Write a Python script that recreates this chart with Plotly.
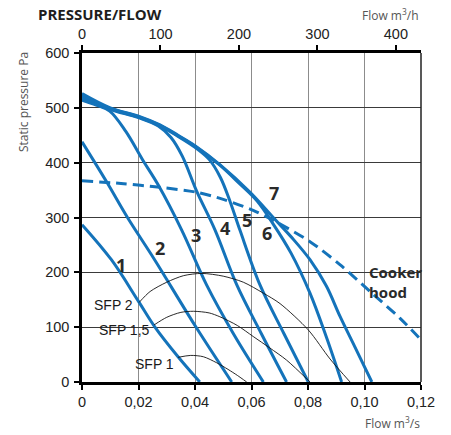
import plotly.graph_objects as go

# ---- data (flow in m3/s, static pressure in Pa) ----
c1_flow = [0, 0.0104, 0.02, 0.0257, 0.034, 0.0417]
c1_pa = [287, 223, 147, 101, 46, 0]

c2_flow = [0, 0.0086, 0.0161, 0.0257, 0.04, 0.053]
c2_pa = [438, 366, 300, 223, 103, 0]

c3_flow = [0, 0.005, 0.0098, 0.0155, 0.0216, 0.0269, 0.0353, 0.0441, 0.0536, 0.0642]
c3_pa = [514, 505, 494, 457, 404, 360, 277, 177, 88, 0]

c4_flow = [0, 0.01, 0.02, 0.027, 0.0315, 0.0355, 0.0405, 0.0471, 0.0548, 0.0635, 0.0724]
c4_pa = [517, 497, 482, 467, 446, 412, 349, 277, 177, 88, 0]

c5_flow = [0, 0.01, 0.02, 0.0276, 0.034, 0.04, 0.045, 0.049, 0.0525, 0.0559, 0.063, 0.0715, 0.0801]
c5_pa = [520, 498, 483, 467, 448, 428, 406, 373, 328, 277, 177, 88, 0]

c6_flow = [0, 0.01, 0.02, 0.0276, 0.034, 0.04, 0.0489, 0.0555, 0.062, 0.0677, 0.074, 0.0807, 0.0865, 0.0919]
c6_pa = [523, 499, 484, 468, 449, 430, 395, 363, 330, 288, 235, 162, 82, 0]

c7_flow = [0, 0.01, 0.02, 0.0276, 0.034, 0.04, 0.0489, 0.0595, 0.0677, 0.0745, 0.0807, 0.0865, 0.0913, 0.0965, 0.1026]
c7_pa = [526, 500, 485, 469, 450, 431, 396, 346, 300, 262, 223, 175, 120, 65, 0]

hood_flow = [0, 0.0138, 0.0276, 0.0406, 0.05, 0.0606, 0.0677, 0.0807, 0.0913, 0.102, 0.1126, 0.12]
hood_pa = [367, 362, 355, 346, 333, 313, 295, 256, 214, 165, 116, 77]

sfp2_flow = [0.0202, 0.0241, 0.03, 0.036, 0.0425, 0.05, 0.0571, 0.0642, 0.0701, 0.0801, 0.0878, 0.0949]
sfp2_pa = [145, 165, 182, 194, 198, 193, 182, 162, 143, 95, 42, 0]

sfp15_flow = [0.0255, 0.03, 0.035, 0.0395, 0.045, 0.0488, 0.055, 0.0606, 0.0665, 0.0724, 0.0807]
sfp15_pa = [104, 118, 127, 129, 126, 119, 103, 83, 62, 40, 0]

sfp1_flow = [0.034, 0.0385, 0.043, 0.0477, 0.0517, 0.055, 0.0583]
sfp1_pa = [45, 48.5, 46, 35, 23, 12, 0]

curve_names = ["1", "2", "3", "4", "5", "6", "7"]
x_ticks = [0, 0.02, 0.04, 0.06, 0.08, 0.10, 0.12]
x_ticklabels = ["0", "0,02", "0,04", "0,06", "0,08", "0,10", "0,12"]
top_ticks = [0, 100, 200, 300, 400]
y_ticks = [0, 100, 200, 300, 400, 500, 600]
M3S_TO_M3H = 3600

fan_curves = [(c1_flow, c1_pa), (c2_flow, c2_pa), (c3_flow, c3_pa), (c4_flow, c4_pa),
              (c5_flow, c5_pa), (c6_flow, c6_pa), (c7_flow, c7_pa)]
sfp_curves = [(sfp2_flow, sfp2_pa), (sfp15_flow, sfp15_pa), (sfp1_flow, sfp1_pa)]

BLUE = "#1473ba"
TXT = "#2a2a2a"
SANS = "Open Sans, DejaVu Sans, sans-serif"
ARIAL = "Liberation Sans, Arial, sans-serif"

fig = go.Figure()
for (fl, pa), name in zip(fan_curves, curve_names):
    fig.add_trace(go.Scatter(x=fl, y=pa, mode="lines", name=name,
                             line=dict(color=BLUE, width=3, shape="spline", smoothing=1.0),
                             hoverinfo="skip", showlegend=False))

fig.add_trace(go.Scatter(x=hood_flow, y=hood_pa, mode="lines", name="Cooker hood",
                         line=dict(color=BLUE, width=3, dash="11px,6px", shape="spline", smoothing=0.8),
                         hoverinfo="skip", showlegend=False))

for fl, pa in sfp_curves:
    fig.add_trace(go.Scatter(x=fl, y=pa, mode="lines",
                             line=dict(color="#111111", width=0.9, shape="spline", smoothing=0.8),
                             hoverinfo="skip", showlegend=False))

# invisible trace on the top (m3/h) axis so that it is drawn
fig.add_trace(go.Scatter(x=[f * M3S_TO_M3H for f in hood_flow], y=hood_pa, xaxis="x2", mode="lines",
                         line=dict(width=0), opacity=0, hoverinfo="skip", showlegend=False))

# curve number labels
label_pos = {"1": (0.0139, 213), "2": (0.0275, 244), "3": (0.0405, 268), "4": (0.0506, 280),
             "5": (0.0583, 296), "6": (0.0654, 271), "7": (0.068, 344)}
ann = []
for name in curve_names:
    lx, ly = label_pos[name]
    ann.append(dict(x=lx, y=ly, xref="x", yref="y", text=f"<b>{name}</b>", showarrow=False,
                    font=dict(family=SANS, size=18, color=TXT)))

ann.append(dict(x=0.1009, y=182, xref="x", yref="y", text="<b>Cooker<br>hood</b>", showarrow=False,
                xanchor="left", yanchor="middle", align="left",
                font=dict(family=SANS, size=15, color=TXT)))

for txt, sx, sy in [("SFP 2", 0.0186, 140), ("SFP 1,5", 0.0246, 94), ("SFP 1", 0.0334, 33)]:
    ann.append(dict(x=sx, y=sy, xref="x", yref="y", text=txt, showarrow=False,
                    xanchor="right", yanchor="middle",
                    font=dict(family=ARIAL, size=14, color="#1a1a1a")))

ann += [
    dict(x=-0.1357, y=1.1185, xref="paper", yref="paper", text="<b>PRESSURE/FLOW</b>", showarrow=False,
         xanchor="left", yanchor="middle", font=dict(family=SANS, size=15, color="#1e1e1e")),
    dict(x=1.0, y=1.1155, xref="paper", yref="paper", text="Flow m<sup>3</sup>/h", showarrow=False,
         xanchor="right", yanchor="middle", font=dict(family=SANS, size=12, color="#555555")),
    dict(x=1.003, y=-0.1246, xref="paper", yref="paper", text="Flow m<sup>3</sup>/s", showarrow=False,
         xanchor="right", yanchor="middle", font=dict(family=SANS, size=12, color="#555555")),
    dict(x=-0.174, y=0.851, xref="paper", yref="paper", text="Static pressure Pa", showarrow=False,
         textangle=-90, xanchor="center", yanchor="middle", font=dict(family=SANS, size=12, color="#555555")),
]

tickfont = dict(family=ARIAL, size=14.5, color="#222222")
fig.update_layout(
    width=443, height=427,
    margin=dict(l=74, r=30, t=45, b=53),
    paper_bgcolor="white", plot_bgcolor="white",
    showlegend=False,
    annotations=ann,
    xaxis=dict(range=[0, 0.12], tickvals=x_ticks, ticktext=x_ticklabels, showgrid=True,
               gridcolor="#8c8c8c", gridwidth=1, zeroline=False, showline=True, linecolor="black",
               linewidth=2.5, ticks="outside", ticklen=5, tickwidth=1.5, tickcolor="black",
               tickfont=tickfont),
    xaxis2=dict(range=[0, 0.12 * M3S_TO_M3H], overlaying="x", side="top", anchor="y",
                tickvals=top_ticks, showgrid=False, zeroline=False, showline=True, linecolor="black",
                linewidth=2.5, ticks="outside", ticklen=5, tickwidth=1.5, tickcolor="black",
                tickfont=tickfont),
    yaxis=dict(range=[0, 600], tickvals=y_ticks, showgrid=True, gridcolor="#3a3a3a", gridwidth=1,
               zeroline=False, showline=True, linecolor="black", linewidth=2.5, ticks="outside",
               ticklen=5, tickwidth=1.5, tickcolor="black", tickfont=tickfont, ticklabelstandoff=2),
    shapes=[dict(type="line", xref="paper", yref="paper", x0=1, x1=1, y0=0, y1=1,
                 line=dict(color="#222222", width=1.5))],
)

fig.write_html("out.html")
